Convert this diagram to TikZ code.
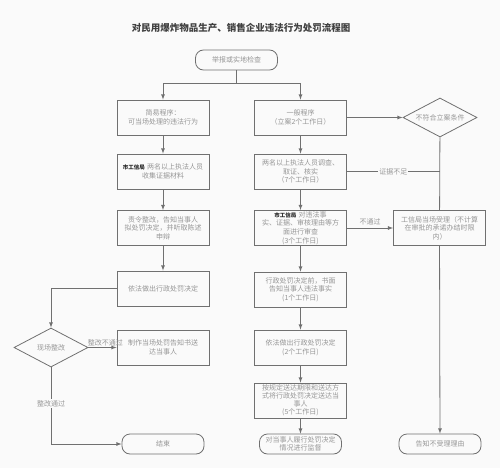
\documentclass[tikz,border=0pt]{standalone}
\usepackage{fontspec}
\setmainfont{Noto Sans CJK SC}
\usetikzlibrary{shapes.geometric}

\definecolor{bgwhite}{HTML}{FAFAFA}
\definecolor{linegray}{HTML}{707070}
\definecolor{textgray}{HTML}{969696}

\newcommand{\gxjtag}{{\fontsize{5.5}{7}\selectfont\bfseries\color{black!85}市工信局}}

\tikzset{
  proc/.style={rectangle,draw=linegray,line width=0.8pt,text=textgray,
    minimum width=92pt,minimum height=35pt,text width=84pt,align=center,
    inner sep=1pt,font=\fontsize{7}{8.6}\selectfont},
  term/.style={rectangle,rounded corners=8pt,draw=linegray,line width=0.8pt,
    text=textgray,minimum width=82pt,minimum height=20pt,align=center,
    inner sep=1pt,font=\fontsize{7}{8.6}\selectfont},
  cond/.style={diamond,aspect=2,draw=linegray,line width=0.8pt,text=textgray,
    minimum width=74pt,minimum height=39pt,inner sep=0pt,
    font=\fontsize{7}{9}\selectfont},
  lbl/.style={text=textgray,inner sep=1pt,font=\fontsize{7}{9}\selectfont},
  link/.style={draw=linegray,line width=0.8pt}
}

\begin{document}
\begin{tikzpicture}[x=1pt,y=-1pt,>=latex]
   \fill[bgwhite] (0,0) rectangle (500,468);
   \useasboundingbox (0,0) rectangle (500,468);
   \node[text=black!75,font=\fontsize{9.5}{11}\selectfont\bfseries] (title) at (241,28)
     {对民用爆炸物品生产、销售企业违法行为处罚流程图};
   % nodes
   \node[term] (jubao) at (236.5,60) {举报或实地检查};
   \node[proc] (jianyi) at (163,117.5) {简易程序：\\可当场处理的违法行为};
   \node[proc] (yiban) at (300.5,117.5) {一般程序\\（立案2个工作日）};
   \node[cond] (buhefu) at (440,117.5) {不符合立案条件};
   \node[proc] (shouji) at (163,171.5) {\gxjtag\ 两名以上执法人员\\收集证据材料};
   \node[proc] (zeling) at (163,228) {责令整改，告知当事人\\拟处罚决定，并听取陈述\\申辩};
   \node[proc] (zuochu) at (163,288.5) {依法做出行政处罚决定};
   \node[cond] (zhenggai) at (51,347.5) {现场整改};
   \node[proc] (zhizuo) at (163,347.5) {制作当场处罚告知书送\\达当事人};
   \node[term] (jieshu) at (163,444) {结束};
   \node[proc] (diaocha) at (300.5,171.5) {两名以上执法人员调查、\\取证、核实\\（7个工作日）};
   \node[proc] (shencha) at (300.5,228) {\gxjtag\ 对违法事\\实、证据、审核理由等方\\面进行审查\\(3个工作日)};
   \node[proc] (shouli) at (439.5,228) {工信局当场受理（不计算\\在审批的承诺办结时限\\内）};
   \node[proc] (gaozhi) at (300.5,289.5) {行政处罚决定前，书面\\告知当事人违法事实\\(1个工作日)};
   \node[proc] (jueding) at (300.5,347.5) {依法做出行政处罚决定\\(2个工作日)};
   \node[proc,inner sep=0pt,font=\fontsize{7}{8.1}\selectfont] (songda) at (300.5,400.5)
     {按规定送达期限和送达方\\式将行政处罚决定送达当\\事人\\(5个工作日)};
   \node[term] (jiandu) at (300.5,444) {对当事人履行处罚决定\\情况进行监督};
   \node[term] (buli) at (440,444) {告知不受理理由};
   \coordinate (fork) at (236.5,83);
   % connectors
   \begin{scope}[every path/.style={link}]
    \draw (jubao) -- (fork);
    \draw[->] (fork) -| (jianyi);
    \draw[->] (fork) -| (yiban);
    \draw[->] (yiban) -- (buhefu);
    \draw[->] (jianyi) -- (shouji);
    \draw[->] (shouji) -- (zeling);
    \draw[->] (zeling) -- (zuochu);
    \draw[->] (zuochu) -| (zhenggai);
    \draw[->] (zhenggai) -- node[lbl,above,pos=0.6]{整改不通过} (zhizuo);
    \draw[->] (zhenggai) |- node[lbl,fill=bgwhite,pos=0.235]{整改通过} (jieshu);
    \draw[->] (yiban) -- (diaocha);
    \draw[->] (diaocha) -- (shencha);
    \draw[->] (shencha) -- (gaozhi);
    \draw[->] (gaozhi) -- (jueding);
    \draw[->] (jueding) -- (songda);
    \draw[->] (songda) -- (jiandu);
    \draw (diaocha.east) -- node[lbl,fill=bgwhite]{证据不足} (diaocha.east -| buhefu.south);
    \draw[->] (shencha) -- node[lbl,above=2pt]{不通过} (shouli);
    \draw (buhefu) -- (shouli);
    \draw[->] (shouli) -- (buli);
   \end{scope}
\end{tikzpicture}
\end{document}
